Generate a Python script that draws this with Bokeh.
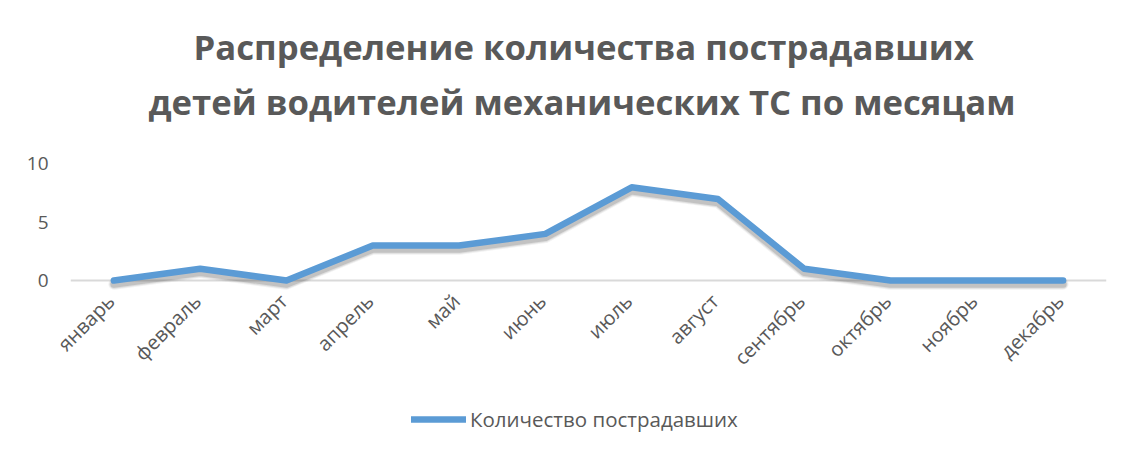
import math
from bokeh.plotting import figure
from bokeh.models import Range1d, FactorRange, Title, Legend, LegendItem, ColumnDataSource
from bokeh.core.properties import value
from bokeh.transform import dodge
from bokeh.embed import file_html
from bokeh.resources import INLINE

months = ["январь", "февраль", "март", "апрель", "май", "июнь",
          "июль", "август", "сентябрь", "октябрь", "ноябрь", "декабрь"]
injured = [0, 1, 0, 3, 3, 4, 8, 7, 1, 0, 0, 0]
y_ticks = [0, 5, 10]
series_name = "Количество пострадавших"
title_line1 = "Распределение количества пострадавших"
title_line2 = "детей водителей механических ТС по месяцам"

TEXT = "#595959"
BLUE = "#5B9BD5"
FONT = "Open Sans"

xr = FactorRange(*months, range_padding=0.2, range_padding_units="absolute")
p = figure(frame_width=1070, frame_height=286, x_range=xr,
           y_range=Range1d(-14.25, 10.3), output_backend="svg",
           toolbar_location=None, min_border_left=53, min_border_right=9,
           min_border_top=160, min_border_bottom=11)
p.outline_line_color = None
p.xgrid.grid_line_color = None
p.ygrid.grid_line_color = None

p.extra_y_ranges = {"shadow": Range1d(-14.25 + 0.32, 10.3 + 0.32)}

# zero baseline spanning the category bands
base_src = ColumnDataSource(dict(x0=[months[0]], x1=[months[-1]], y=[y_ticks[0]]))
p.segment(x0=dodge("x0", -0.5, range=xr), x1=dodge("x1", 0.5, range=xr),
          y0="y", y1="y", source=base_src, line_color="#D9D9D9", line_width=2)

for w, a in [(11, 0.07), (9, 0.11), (7, 0.18)]:
    p.line(months, injured, y_range_name="shadow", line_color="#404040",
           line_alpha=a, line_width=w, line_join="round", line_cap="round")

main = p.line(months, injured, line_color=BLUE, line_width=6.5,
              line_join="round", line_cap="round")

# category labels, rotated, hanging under the zero line
lab_src = ColumnDataSource(dict(x=months, y=[y_ticks[0]] * len(months), t=months))
p.text(x="x", y="y", text="t", source=lab_src, angle=math.pi / 4,
       text_align="right", text_baseline="middle", x_offset=-3, y_offset=17,
       text_font=value(FONT), text_font_size="20px", text_color=TEXT)
p.xaxis.visible = False

# y axis
p.yaxis.ticker = y_ticks
p.yaxis.axis_line_color = None
p.yaxis.major_tick_line_color = None
p.yaxis.minor_tick_line_color = None
p.yaxis.major_tick_out = 0
p.yaxis.major_label_standoff = 5
p.yaxis.major_label_text_font = FONT
p.yaxis.major_label_text_font_size = "19px"
p.yaxis.major_label_text_color = TEXT

legend = Legend(items=[LegendItem(label=series_name, renderers=[main])],
                orientation="horizontal", location=(358, 13),
                label_text_font=FONT, label_text_font_size="20.5px",
                label_text_color=TEXT, glyph_width=55, glyph_height=20,
                border_line_color=None, background_fill_alpha=0,
                label_standoff=4, padding=0, margin=0)
p.add_layout(legend, "center")

# titles (spacer closest to the frame, then line 2, then line 1)
p.add_layout(Title(text=" ", text_font=FONT, text_font_size="10px",
                   standoff=17), "above")
p.add_layout(Title(text=title_line2, align="left", offset=95, text_font=FONT,
                   text_font_size="34.7px", text_font_style="bold",
                   text_color=TEXT, standoff=6), "above")
p.add_layout(Title(text=title_line1, align="left", offset=140, text_font=FONT,
                   text_font_size="34.7px", text_font_style="bold",
                   text_color=TEXT, standoff=6), "above")

open("out.html", "w").write(file_html(p, INLINE))
